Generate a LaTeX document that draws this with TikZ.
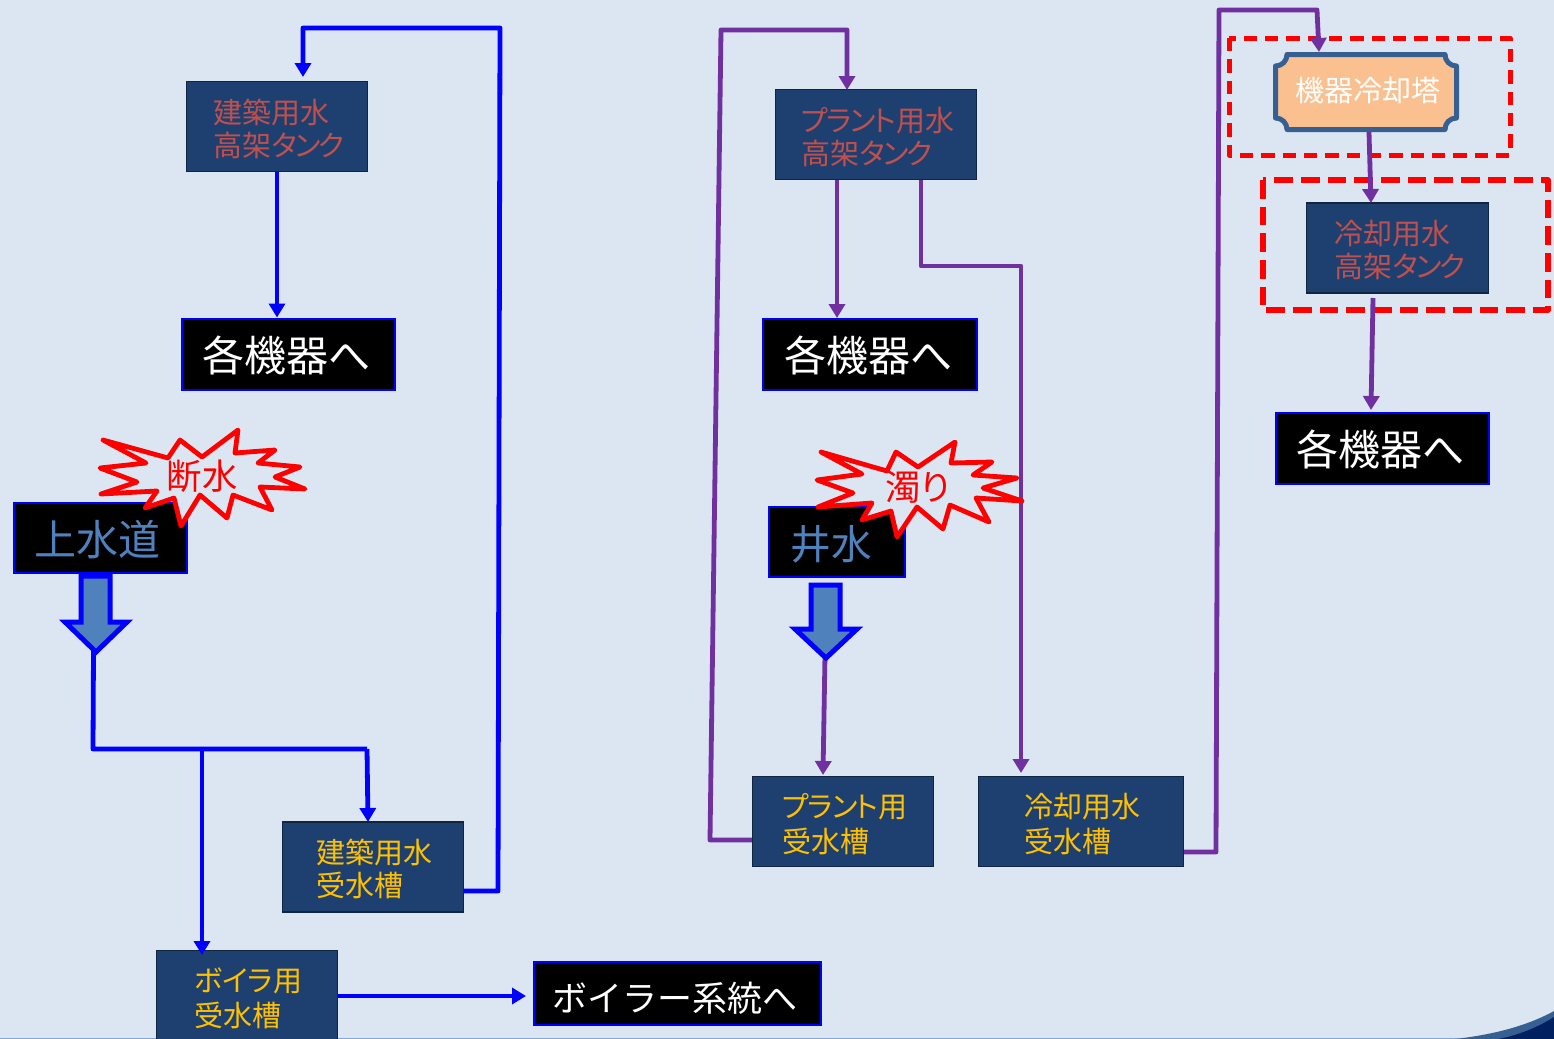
\documentclass[tikz,border=0pt]{standalone}
\usepackage{fontspec}
\setmainfont{Noto Sans CJK JP}[RawFeature=+palt]
\usetikzlibrary{arrows.meta}

\definecolor{pagebg}{HTML}{DCE6F2}
\definecolor{tankfill}{HTML}{1D4070}
\definecolor{tankline}{HTML}{10253F}
\definecolor{tankred}{HTML}{C0504D}
\definecolor{tankyellow}{HTML}{FFC000}
\definecolor{steelblue}{HTML}{4F81BD}
\definecolor{pipepurple}{HTML}{7030A0}
\definecolor{towerfill}{HTML}{FAC090}
\definecolor{towerline}{HTML}{376092}
\definecolor{cornernavy}{HTML}{002060}

\tikzset{
  tankbox/.style={draw=tankline, line width=0.9pt, fill=tankfill, minimum height=67.5pt, inner ysep=0pt, align=left, execute at begin node=\rule{0pt}{22pt}},
  uppertext/.style={text=tankred, font=\fontsize{21.75pt}{24.75pt}\selectfont},
  lowertext/.style={text=tankyellow, font=\fontsize{21.75pt}{24.75pt}\selectfont},
  lowerwide/.style={text=tankyellow, font=\fontsize{21.75pt}{26.25pt}\selectfont},
  outletbox/.style={draw=blue, line width=1.5pt, fill=black, minimum height=53.25pt, inner sep=0pt, text=white, font=\fontsize{31.5pt}{36pt}\selectfont, execute at begin node=\rule{0pt}{29.5pt}},
  sourcebox/.style={outletbox, text=steelblue},
  bluepipe/.style={draw=blue, line width=3.6pt, line join=round},
  purplepipe/.style={draw=pipepurple, line width=3.6pt, line join=round},
  pipetip/.style={-{Triangle[length=10.5pt,width=12pt]}},
  fatarrow/.style={draw=blue, fill=steelblue, line width=3.75pt},
  burst/.style={draw=red, fill=pagebg, line width=3.6pt, line join=round},
  bursttext/.style={text=red, inner sep=0pt, font=\fontsize{26.5pt}{28pt}\selectfont},
  reddash/.style={draw=red, line join=round}
}

\begin{document}
\begin{tikzpicture}[x=0.75pt,y=0.75pt,yscale=-1,xscale=1]
\clip (0,0) rectangle (1554,1039);
\fill [pagebg] (0,0) rectangle (1554,1039);

% corner of the slide
\draw [color=steelblue!70, line width=0.75pt] (0,1038.5) -- (1470,1038.5);
\fill [towerline] (1455,1039) .. controls (1490,1035) and (1525,1027) .. (1554,1011) -- (1554,1039) -- cycle;
\fill [cornernavy] (1498,1039) .. controls (1520,1035) and (1540,1026) .. (1554,1017) -- (1554,1039) -- cycle;

% red frames
\draw [reddash, line width=3.75pt, dash pattern=on 10pt off 6pt] (1229,38) rectangle (1510,155);
\draw [reddash, line width=4.2pt, dash pattern=on 14pt off 6pt] (1263,180) rectangle (1548,310);

% tanks
\node (tankA) [tankbox, uppertext, minimum width=135.75pt, text width=95.25pt, inner xsep=20.25pt] at (277,126.5) {建築用水\\高架タ\kern-1.5ptン\kern-1.5ptク};
\node (tankB) [tankbox, uppertext, minimum width=150.75pt, text width=111.75pt, inner xsep=19.5pt] at (876,134.5) {プ\kern-1.2ptラ\kern-1.2ptン\kern-1.2ptト用水\\高架タ\kern-1.5ptン\kern-1.5ptク};
\node (tankC) [tankbox, uppertext, minimum width=136.5pt, text width=94.5pt, inner xsep=21pt] at (1397.5,248) {冷却用水\\高架タ\kern-1.5ptン\kern-1.5ptク};
\node (lowA) [tankbox, lowertext, minimum width=135.75pt, text width=84.75pt, inner xsep=25.5pt] at (373,867) {建築用水\\受水槽};
\node (lowB) [tankbox, lowerwide, minimum width=135.75pt, text width=90.75pt, inner xsep=22.5pt] at (843,821.5) {プ\kern-1ptラ\kern-1ptン\kern-1ptト用\\受水槽};
\node (lowC) [tankbox, lowerwide, minimum width=153.75pt, text width=84.75pt, inner xsep=34.5pt] at (1081,821.5) {冷却用水\\受水槽};
\node (boiler) [tankbox, lowerwide, minimum width=135.75pt, text width=78.75pt, inner xsep=28.5pt] at (247,995.5) {ボイラ用\\受水槽};

% black boxes
\node (toA) [outletbox, minimum width=159.75pt] at (288,354) {各機器へ\kern1.5pt};
\node (toB) [outletbox, minimum width=160.5pt] at (869.5,354) {各機器へ\kern1.5pt};
\node (toC) [outletbox, minimum width=159.75pt] at (1382,448) {各機器へ\kern1.5pt};
\node (toBoiler) [outletbox, minimum width=215.25pt, minimum height=47.25pt, font=\fontsize{26.25pt}{30pt}\selectfont\addfontfeature{RawFeature=-palt}, execute at begin node={}] at (677,993) {ボイラー系統へ\kern3.75pt};
\node (water) [sourcebox, minimum width=129.75pt, minimum height=52.5pt] at (100,537.5) {上水道\kern3.75pt};
\node (well) [sourcebox, minimum width=102pt, minimum height=52.5pt, font=\fontsize{30.5pt}{36pt}\selectfont] at (836.5,541.5) {井水\kern7.5pt};

% tower
\draw [draw=towerline, fill=towerfill, line width=3.75pt, line join=round] (1287,54.5) -- (1445,54.5) .. controls (1445,61) and (1450,66) .. (1456.5,66) -- (1456.5,118) .. controls (1450,118) and (1445,123) .. (1445,129.5) -- (1287,129.5) .. controls (1287,123) and (1282,118) .. (1275.5,118) -- (1275.5,66) .. controls (1282,66) and (1287,61) .. (1287,54.5) -- cycle;
\node (tower) [minimum width=135.75pt, minimum height=56.25pt, inner sep=0pt, text=white, font=\fontsize{21.75pt}{24.75pt}\selectfont] at (1368,90.5) {機器冷却塔};

% free ends and bends
\coordinate (tipA) at (93.5,651);
\coordinate (tipB) at (825,655);
\coordinate (splitA) at (93,749);
\coordinate (splitB) at (202,749);
\coordinate (towerTop) at (1317,10);

% blue pipes
\draw [bluepipe, pipetip] (tankA.south) -- (tankA.south |- toA.north);
\draw [bluepipe] (tipA) -- (splitA) -- (367,749);
\draw [bluepipe, pipetip] (367,749) -- (368,822);
\draw [bluepipe, pipetip] (splitB) -- (202,955);
\draw [bluepipe, pipetip] (lowA.east |- 0,891) -- (498,891) -- (500,28) -- (303,28) -- (303,77);
\draw [bluepipe, pipetip] (boiler.east |- 0,996) -- (526,996);

% purple pipes
\draw [purplepipe, pipetip] (tipB) -- (823,775);
\draw [purplepipe, pipetip] (837,180) -- (837,318);
\draw [purplepipe, pipetip] (921,180) -- (921,266) -- (1021,266) -- (1021,773);
\draw [purplepipe, pipetip] (lowB.west |- 0,840) -- (710,840) -- (721,30) -- (847,30) -- (847,90);
\draw [purplepipe, pipetip] (lowC.east |- 0,852) -- (1216,852) -- (1219,10) -- (towerTop) -- (1319,52);
\draw [purplepipe, pipetip] (1369,132) -- (1371,203);
\draw [purplepipe, pipetip] (1373,298) -- (1371,410);

% fat arrows
\draw [fatarrow] (81,576) -- (110,576) -- (110,622) -- (127,622) -- (96,652) -- (65,622) -- (81,622) -- cycle;
\draw [fatarrow] (811,585) -- (840,585) -- (840,629) -- (857,629) -- (826,658) -- (795,629) -- (811,629) -- cycle;

% bursts
\draw [burst] (103,440) -- (168,458) -- (180,440) -- (202,457) -- (238,430) -- (235,453) -- (275,450) -- (258,463) -- (300,467) -- (275,477) -- (305,489) -- (260,487) -- (272,510) -- (233,495) -- (227,518) -- (200,495) -- (181,526) -- (174,498) -- (145,508) -- (157,491) -- (101,494) -- (137,482) -- (100,468) -- (146,463) -- cycle;
\node (stopLabel) [bursttext] at (202,476) {断水};
\draw [burst] (821,452) -- (887,471) -- (896,452) -- (918,467) -- (955,442) -- (951,463) -- (992,462) -- (973,475) -- (1017,478) -- (983,488) -- (1022,501) -- (976,498) -- (989,522) -- (950,505) -- (943,529) -- (917,507) -- (897,537) -- (891,511) -- (862,520) -- (872,503) -- (818,507) -- (853,493) -- (817,480) -- (862,474) -- cycle;
\node (muddyLabel) [bursttext] at (918,487) {濁り};

\end{tikzpicture}
\end{document}
